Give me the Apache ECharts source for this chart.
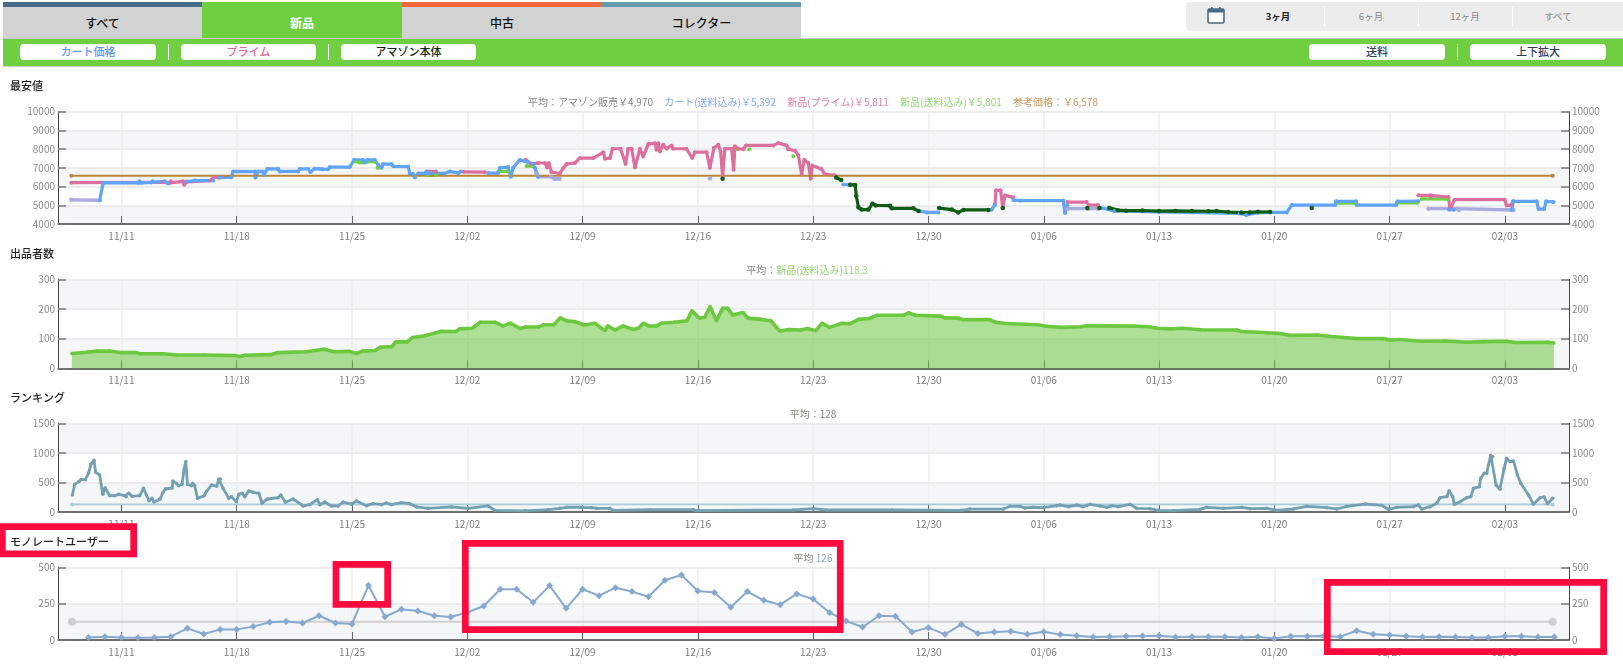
<!DOCTYPE html>
<html lang="ja">
<head>
<meta charset="utf-8">
<title>モノレート</title>
<script src="https://cdn.jsdelivr.net/npm/echarts@6/dist/echarts.min.js"></script>
<style>
html,body{margin:0;padding:0;background:#fff;width:1623px;height:667px;overflow:hidden;font-family:"Noto Sans CJK JP","Noto Sans",sans-serif}
#chart{position:absolute;left:0;top:0;width:1623px;height:667px}
.ui{position:absolute;box-sizing:border-box}
.tab{top:7px;height:31px;line-height:31px;text-align:center;font-size:12px;font-weight:500;color:#111;background:#d1d3d2}
.bar{top:2px;height:5px}
.btn{top:44px;height:16px;line-height:15px;background:#fff;border-radius:4px;text-align:center;font-size:11px;font-weight:500}
.sep{top:44px;height:16px;width:1px;background:#fff}
.per{top:9px;height:14px;line-height:14px;font-size:9.5px;color:#888;text-align:center;width:60px}
.psep{top:7px;height:19px;width:1px;background:#fff}
</style>
</head>
<body>
<div id="chart"></div>
<div class="ui bar" style="left:3px;width:199px;background:#466a85"></div>
<div class="ui bar" style="left:202px;width:200px;background:#6fcf40"></div>
<div class="ui bar" style="left:402px;width:200px;background:#f0673a"></div>
<div class="ui bar" style="left:602px;width:199px;background:#649aae"></div>
<div class="ui tab" style="left:3px;width:199px">すべて</div>
<div class="ui tab" style="left:202px;width:200px;background:#6fcf40;color:#fff;font-weight:700">新品</div>
<div class="ui tab" style="left:402px;width:200px">中古</div>
<div class="ui tab" style="left:602px;width:199px">コレクター</div>
<div class="ui" style="left:3px;top:38px;width:1620px;height:29px;background:#6fcf40;border-top:1px solid #c8c8c8;border-bottom:1px solid #c8c8c8"></div>
<div class="ui btn" style="left:20px;width:136px;color:#5b9bf5">カート価格</div>
<div class="ui sep" style="left:168px"></div>
<div class="ui btn" style="left:181px;width:135px;color:#dd6a9c">プライム</div>
<div class="ui sep" style="left:328px"></div>
<div class="ui btn" style="left:341px;width:135px;color:#0c2a12">アマゾン本体</div>
<div class="ui btn" style="left:1309px;width:136px;color:#2f3e5a">送料</div>
<div class="ui sep" style="left:1457px"></div>
<div class="ui btn" style="left:1470px;width:136px;color:#2f3e5a">上下拡大</div>
<div class="ui" style="left:1186px;top:2px;width:437px;height:29px;background:#ececec;border-radius:4px 0 0 4px"></div>
<svg class="ui" style="left:1207px;top:6px" width="18" height="18" viewBox="0 0 18 18"><rect x="1" y="3" width="16" height="14" rx="1.5" fill="#fff" stroke="#4a6a85" stroke-width="1.6"/><rect x="1" y="3" width="16" height="3.5" fill="#4a6a85"/><rect x="4" y="1" width="1.6" height="4" fill="#4a6a85"/><rect x="12" y="1" width="1.6" height="4" fill="#4a6a85"/></svg>
<div class="ui per" style="left:1248px;color:#222;font-weight:700">3ヶ月</div>
<div class="ui psep" style="left:1324px"></div>
<div class="ui per" style="left:1341px">6ヶ月</div>
<div class="ui psep" style="left:1418px"></div>
<div class="ui per" style="left:1435px">12ヶ月</div>
<div class="ui psep" style="left:1512px"></div>
<div class="ui per" style="left:1528px">すべて</div>
<script>
// ---- axis ----
var tickDays = [0, 7, 14, 21, 28, 35, 42, 49, 56, 63, 70, 77, 84];
var tickLabels = ['11/11','11/18','11/25','12/02','12/09','12/16','12/23','12/30','01/06','01/13','01/20','01/27','02/03'];
// ---- 最安値: [day after 11/11, price], null = gap ----
var greenPrice = [[14.2,7350],[14.45,7280],[14.68,7280],[14.94,7330],[15.38,7330],null,[15.55,7000],[15.8,7000],null,[18.6,6600],[19.1,6620],null,[22.9,6810],[23.4,6810],null,[24.6,7100],[25,7080],null,[37.4,8010],null,[38.12,8000],null,[40.8,7620],null,[73.75,5120],[74.95,5120],null,[77.47,5130],[78.7,5130],null,[78.95,5340],[80.55,5330]];
var lowestPrice = [[-3.04,5290],[-1.32,5270],null,[25.2,6700],[25.3,6540],[26.1,6520],[26.3,6420],[26.6,6420],null,[35.73,6450],null,[57.43,4820],[58.7,4820],[59.3,4830],null,[79.36,4820],[81.09,4820],[81.2,4750],[84.52,4750]];
var primePrice = [[-3.04,6210],[2.5,6230],[2.94,6200],[3.0,6280],[3.74,6280],[3.81,6100],[3.95,6250],[5.4,6320],[5.6,6490],[5.87,6490],null,[18.55,6810],[19.1,6810],null,[20.75,6790],[22.06,6770],null,
 [24.55,7430],[24.9,7200],[25.3,7260],[25.71,7260],[25.85,7020],[25.95,7260],[26.11,6780],[26.62,6700],[26.83,6990],[27.03,7200],[27.53,7260],[27.84,7520],[28.65,7520],[29.26,7840],[29.36,7490],[29.66,7520],[29.82,8020],[30.31,8020],[30.61,7200],[30.77,8020],[30.98,8020],[31.18,7020],[31.48,8020],[31.68,7610],[31.99,8270],[32.39,8320],[32.49,7970],[32.6,8320],[32.7,7880],[32.9,8230],[33.1,8020],[33.4,8200],[33.5,8020],[34.3,8020],[34.66,7520],[34.82,7840],[35.53,7840],[35.73,6990],[35.97,8060],[36.24,8230],[36.38,7880],[36.5,6540],[36.64,8020],[37.05,8020],[37.17,6900],[37.25,8150],[37.45,8020],[37.76,8000],[37.92,8200],[39.58,8200],[39.88,8320],[40.39,8200],[40.49,8000],[40.9,7910],[41.1,7670],[41.3,6670],[41.46,7430],[41.7,7260],[41.85,6420],[41.95,7130],[42.5,6940],[42.7,6670],[43.3,6600],null,
 [53.04,5050],[53.1,5800],[53.38,5800],[53.51,4850],[53.65,5530],[54.15,5420],null,[57.43,5170],[58.61,5170],null,[58.71,5010],[59.3,5010],null,[78.75,5530],[79.46,5530],[79.5,5440],[80.57,5440],[80.67,4780],[80.94,5300],[83.99,5300],[84.1,4990],[84.35,4990],[84.5,5210]];
var cartPrice = [[-1.32,5270],[-1.11,6200],[1.01,6200],[1.1,6280],[1.21,6200],[1.82,6220],[1.9,6290],[2.63,6280],[2.83,6170],null,[3.95,6270],[4.5,6320],[5.57,6320],null,[5.97,6480],[6.68,6500],[6.78,6810],[8.10,6800],[8.14,6490],[8.3,6810],[8.6,6800],[8.66,6630],[8.87,6950],[9.51,6950],[9.62,6810],[10.73,6810],[10.83,6940],[11.34,6940],[11.48,6780],[11.74,6960],[12.0,6950],[12.2,6920],[12.55,6930],[12.65,7040],[13.87,7040],[14.13,7430],[14.68,7430],[14.78,7290],[14.94,7430],[15.38,7430],[15.6,7150],[15.79,7020],[15.89,7200],[16.4,7200],[16.5,7080],[17.41,7070],[17.51,6700],[17.7,6680],[17.81,6490],[18.02,6700],[18.42,6700],[18.52,6810],[18.6,6700],[19.6,6700],[19.94,6810],[20.45,6720],[20.6,6810],null,[22.27,6720],[22.87,6720],[22.98,7000],[23.48,7040],[23.64,6530],[23.79,7000],[24.19,7430],[24.49,7350],[24.7,7300],[25.0,7200],[25.1,7000],[25.3,6530],null,
 [43.83,6110],[44.23,6090],null,[48.49,4680],[48.9,4620],[49.6,4620],null,[52.64,4750],[52.84,4770],[53.04,5030],null,[54.15,5280],[54.56,5250],[57.19,5250],[57.29,4590],[57.43,5000],null,[59.5,4860],[60.3,4700],[63,4640],[67.9,4560],[68.3,4480],[69,4600],[69.74,4620],[70.75,4620],[71.06,5010],[73.69,5010],[73.75,5210],[74.96,5210],[75,5010],[77.39,5010],[77.47,5210],[78.75,5220],null,[80.6,4780],[80.9,4760],null,[84.4,4760],[84.52,5210],[85.93,5210],[86.04,4800],[86.38,4800],[86.5,5210],[86.95,5180]];
var amazonPrice = [[36.5,6420],null,[43.4,6480],[43.7,6350],null,[44.25,6100],[44.55,6090],[44.62,5500],[44.75,4890],[44.94,4770],[45.35,4770],[45.6,5085],[45.8,4990],[46.66,4980],[46.77,4840],[48.08,4840],[48.4,4690],null,[49.65,4850],[50.41,4770],[50.81,4620],[51.12,4750],[52.64,4750],null,[53.51,4850],null,[58.65,4850],null,[59.38,4850],null,[59.98,4860],[60.5,4740],[61.0,4710],[62,4720],[63,4690],[64,4700],[65,4690],[66,4680],[66.5,4690],[67.2,4640],[68,4610],[68.5,4620],[69,4650],[69.74,4640],null,[72.27,4850]];
var referencePrice = [[-3.04,6578],[86.9,6578]];
// ---- 出品者数 ----
var sellerCount = [[-3.01,50],[-2.11,54],[-1.49,58],[-0.71,58],[-0.09,53],[0.84,53],[1.15,49],[2.54,49],[3.32,45],[5.02,45],[6.88,43],[7.19,40],[7.5,44],[9.05,46],[9.52,53],[11.22,56],[12.31,64],[12.93,56],[13.86,57],[14.26,50],[14.64,58],[15.41,60],[15.72,71],[16.43,73],[16.65,89],[17.36,89],[17.67,104],[18.36,109],[19.44,125],[20.31,124],[20.53,133],[21.3,135],[21.77,155],[22.7,155],[23.16,143],[23.63,152],[24.19,134],[24.56,139],[25.33,139],[25.64,147],[26.26,147],[26.64,170],[27.04,160],[27.5,158],[28.12,146],[28.74,152],[29.36,127],[29.52,143],[29.98,129],[30.45,143],[31.07,131],[31.38,135],[31.69,152],[32.0,143],[32.47,142],[32.78,152],[33.55,155],[34.33,160],[34.64,194],[35.1,169],[35.41,172],[35.75,208],[36.12,160],[36.5,202],[36.81,202],[37.12,180],[37.74,188],[38.05,169],[38.82,165],[39.44,160],[39.97,126],[40.53,131],[41.24,129],[41.65,134],[42.16,127],[42.54,152],[43.0,138],[43.75,152],[44.2,150],[44.77,165],[45.4,168],[45.9,179],[47.5,179],[47.8,187],[48.2,179],[49.7,176],[50.0,170],[50.8,169],[51.1,164],[52.7,164],[53.1,155],[53.7,151],[55.6,147],[56.2,142],[57.0,138],[58.3,140],[58.5,143],[61.6,142],[62.4,140],[62.9,135],[63.7,133],[64.4,135],[65.5,130],[67.7,129],[68.0,124],[69.6,120],[70.4,117],[70.9,111],[72.6,112],[73.5,107],[74.4,103],[75,100],[76.6,100],[77.1,95],[77.6,97],[78.8,91],[80.4,92],[81.7,88],[82.7,90],[84.1,91],[84.6,87],[86.6,88],[86.97,85]];
// ---- ランキング ----
var rankingValues = [[-2.98,288],[-2.83,468],[-2.59,513],[-2.47,547],[-2.19,547],[-1.98,665],[-1.86,806],[-1.66,874],[-1.56,671],[-1.32,626],[-1.13,299],[-0.99,412],[-0.71,276],[-0.4,276],[-0.16,299],[0.2,276],[0.3,259],[0.45,316],[0.65,265],[1.11,276],[1.34,400],[1.52,288],[1.68,192],[1.86,231],[1.98,169],[2.33,214],[2.53,333],[2.67,389],[3.08,406],[3.12,524],[3.34,485],[3.48,445],[3.68,468],[3.81,727],[3.91,852],[4.01,468],[4.25,445],[4.33,485],[4.45,445],[4.62,231],[5.02,276],[5.16,344],[5.47,457],[5.79,434],[5.91,558],[6.03,558],[6.17,400],[6.52,231],[6.68,259],[6.98,175],[7.13,299],[7.33,316],[7.49,259],[7.73,356],[8.0,333],[8.34,316],[8.54,152],[8.87,220],[9.51,242],[9.68,288],[9.96,164],[10.43,220],[11.03,102],[11.44,124],[11.9,209],[12.04,124],[12.35,169],[12.75,102],[13.16,102],[13.46,169],[13.97,135],[14.27,186],[14.88,107],[15.28,141],[15.79,124],[16.09,152],[16.4,124],[17.0,158],[17.51,141],[17.92,85],[18.62,62],[20.04,85],[21.05,62],[22.27,102],[22.67,28],[24.49,20],[25.91,40],[26.62,62],[27.03,80],[27.84,80],[28.0,73],[28.55,73],[28.85,62],[29.66,62],[29.86,28],[32.09,40],[34.72,40],[34.92,23],[40.79,34],[42.0,56],[42.8,34],[46.8,34],[51,28],[51.5,50],[53.55,50],[53.95,96],[54.56,96],[54.86,68],[55.36,80],[56,73],[56.78,107],[56.99,118],[57.49,90],[58,118],[58.4,90],[58.81,130],[59.42,102],[59.82,79],[60.13,107],[60.53,90],[61.24,130],[61.64,62],[62.45,56],[62.96,28],[63.87,23],[65.49,45],[65.89,79],[66.9,62],[68.02,79],[68.53,56],[69.54,62],[70.15,28],[71.16,51],[71.97,96],[73.18,73],[73.79,51],[74.4,96],[75.51,135],[76.52,113],[76.93,45],[77.43,79],[78.44,90],[78.75,118],[78.95,51],[79.46,90],[79.86,147],[80.06,242],[80.47,259],[80.61,361],[80.83,259],[80.93,130],[81.28,175],[81.68,242],[81.93,259],[82.09,400],[82.45,429],[82.53,570],[82.74,654],[82.9,654],[83.0,795],[83.14,959],[83.26,936],[83.46,457],[83.7,384],[83.95,739],[84.1,908],[84.3,852],[84.52,863],[84.76,626],[84.96,485],[85.43,288],[85.73,130],[86.13,242],[86.38,254],[86.58,141],[86.9,231]];
var rankingAverage = [[-3,128],[86.9,128]];
// ---- モノレートユーザー: one value per day ----
var monoFirstDay = -2;
var monoValues = [18,23,18,16,18,23,80,41,73,73,92,122,128,117,167,117,110,376,160,211,200,167,158,190,234,349,349,259,374,218,349,305,360,333,298,411,447,337,326,225,333,273,243,317,282,188,131,89,167,163,55,85,39,108,44,55,60,39,57,37,30,21,23,25,28,30,21,23,23,23,18,23,11,25,25,28,23,64,39,34,25,21,23,21,18,18,25,25,21,21];
var monoAverage = [[-3,126],[86.9,126]];

function gaps(pts){ return pts.map(function(p,i){ return p || [pts[i-1][0], null]; }); }
var monoData = monoValues.map(function(v,i){ return [monoFirstDay+i, v]; });

var grids = [
 {top:111.7, height:112.3, min:4000, max:10000, interval:1000, band:['#f5f6f8','#ffffff']},
 {top:279.3, height:89,   min:0, max:300,  interval:100, band:['#f5f6f8','#ffffff']},
 {top:423.3, height:88.7, min:0, max:1500, interval:500, band:['#f5f6f8','#ffffff']},
 {top:567.3, height:72.7, min:0, max:500,  interval:250, band:['#f5f6f8','#ffffff']}
];
var labelFont = '"Noto Sans CJK JP","Noto Sans",sans-serif';
var option = {animation:false, textStyle:{fontFamily:labelFont}, grid:[], xAxis:[], yAxis:[], series:[], title:[], graphic:[]};
grids.forEach(function(g,i){
  option.grid.push({left:58, width:1511, top:g.top, height:g.height, containLabel:false, show:false});
  option.xAxis.push({type:'value', gridIndex:i, min:-3.85, max:87.89, position:'bottom',
    axisLine:{show:true, onZero:false, lineStyle:{color:'#444', width:1.5}},
    axisTick:{show:true, inside:true, length:8, customValues:tickDays, lineStyle:{color:'#666', width:1}},
    axisLabel:{show:true, customValues:tickDays, margin:7, fontSize:10, color:'#7c7c7c', fontFamily:labelFont,
      formatter:function(v){ return tickLabels[tickDays.indexOf(v)]; }},
    splitLine:{show:true, lineStyle:{color:'#eeeeee', width:1.5}}, splitArea:{show:false}});
  ['left','right'].forEach(function(pos){
    option.yAxis.push({type:'value', gridIndex:i, position:pos, min:g.min, max:g.max, interval:g.interval,
      axisLine:{show:true, onZero:false, lineStyle:{color:'#444', width:1}},
      axisTick:{show:true, inside:true, length:8, lineStyle:{color:'#777', width:1.5}},
      axisLabel:{show:true, margin:3, fontSize:10, color:'#8a8a8a', fontFamily:labelFont, formatter:function(v){return String(v);}},
      splitLine:{show:pos==='left', lineStyle:{color:'#ececec', width:2}},
      splitArea:{show:pos==='left', areaStyle:{color:g.band}}});
  });
});
function line(gridIdx, data, color, width, symbolSize, extra){
  var s = {type:'line', xAxisIndex:gridIdx, yAxisIndex:gridIdx*2, data:data, showSymbol:true, showAllSymbol:true,
    symbol:'circle', symbolSize:symbolSize, connectNulls:false, smooth:false,
    lineStyle:{color:color, width:width}, itemStyle:{color:color}};
  for (var k in (extra||{})) s[k]=extra[k];
  return s;
}
option.series.push(
  line(0, gaps(greenPrice), '#6fd040', 3.2, 4),
  line(0, gaps(lowestPrice), '#a9aadf', 3.4, 4.5),
  line(0, gaps(primePrice), '#dd6f9f', 3.2, 4),
  line(0, gaps(cartPrice), '#5fa4f8', 3.2, 4),
  line(0, gaps(amazonPrice), '#0f5c14', 3.2, 4.5),
  line(0, referencePrice, '#bb8437', 1.8, 4),
  line(1, sellerCount, '#6cc93f', 3.6, 3.5, {areaStyle:{color:'#6cc93f', opacity:.55}}),
  line(2, rankingAverage, '#a8cbd8', 1.8, 4),
  line(2, rankingValues, '#73a0b2', 2.8, 3.5),
  line(3, monoAverage, '#cfcfcf', 2, 8),
  line(3, monoData, '#86a9cf', 2, 7, {symbol:'diamond'})
);
function head(text, y){ return {text:text, left:10, top:y-6, padding:0, textStyle:{fontSize:11, fontWeight:500, color:'#222', fontFamily:labelFont}}; }
function sub(text, y, rich, x){ return {text:text, left:x, top:y-5, padding:0, textAlign:'center', textStyle:{fontSize:10, fontWeight:'normal', color:'#888', fontFamily:labelFont, rich:rich}}; }
function tone(c){ return {color:c, fontSize:10, fontFamily:labelFont}; }
var tones = {g:tone('#858a80'), b:tone('#7fa8f2'), p:tone('#dc80a8'), n:tone('#92d673'), r:tone('#c09a62'), m:tone('#8ea8cc')};
option.title = [
  head('最安値', 86), head('出品者数', 254), head('ランキング', 398), head('モノレートユーザー', 542),
  sub('{g|平均：アマゾン販売￥4,970}     {b|カート(送料込み)￥5,392}     {p|新品(プライム)￥5,811}     {n|新品(送料込み)￥5,801}     {r|参考価格：￥6,578}', 102, tones, 813),
  sub('{g|平均：}{n|新品(送料込み)118.3}', 270.7, tones, 807),
  sub('{g|平均：128}', 414, tones, 813),
  sub('{g|平均} {m|126}', 558, tones, 813)
];
function box(l,t,r,b,w){ return {type:'rect', z:100, silent:true, shape:{x:l+w/2, y:t+w/2, width:r-l-w, height:b-t-w}, style:{fill:'none', stroke:'#ff0a3e', lineWidth:w}}; }
option.graphic = [box(-1,523.3,137,557.3,6.7), box(332.6,561,391,607.7,6.7), box(462,540,843.6,633,6.7), box(1324,579,1607,655,6.7)];
echarts.init(document.getElementById('chart'), null, {renderer:'canvas'}).setOption(option);
</script>
</body>
</html>
